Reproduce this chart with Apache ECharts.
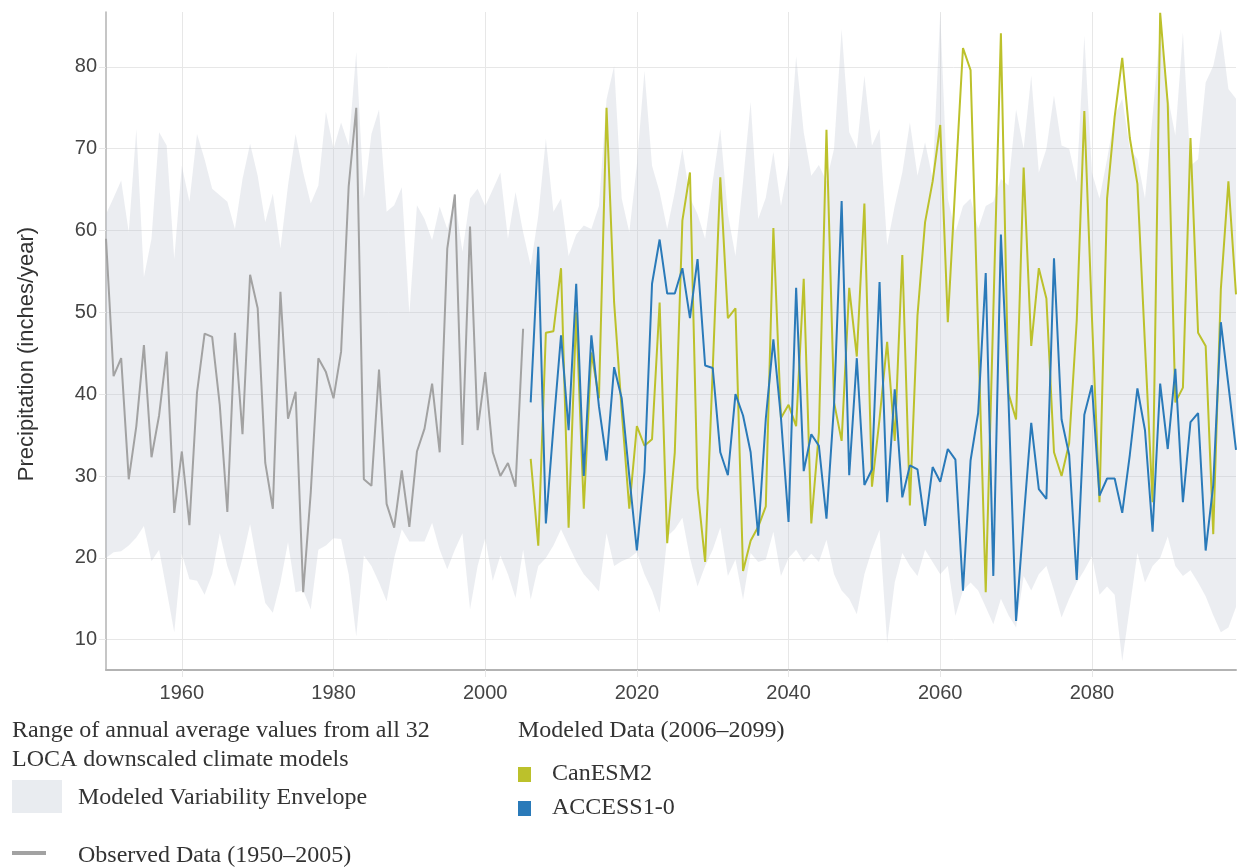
<!DOCTYPE html>
<html>
<head>
<meta charset="utf-8">
<script src="https://cdn.jsdelivr.net/npm/echarts@6/dist/echarts.min.js"></script>
<style>
  html, body { margin: 0; padding: 0; background: #ffffff; }
  #chart { width: 1237px; height: 867px; }
</style>
</head>
<body>
<div id="chart"></div>
<script>
// Annual precipitation, inches/year
const FIRST_YEAR = 1950;
const MODEL_FIRST_YEAR = 2006;

// Observed record 1950–2005
const observed = [
  59.0, 42.2, 44.4, 29.6, 36.1, 46.0, 32.3, 37.4, 45.2, 25.5,
  33.0, 24.0, 40.2, 47.4, 47.0, 38.7, 25.6, 47.5, 35.1, 54.6,
  50.5, 31.6, 26.0, 52.5, 37.0, 40.3, 15.8, 28.0, 44.4, 42.7,
  39.5, 45.2, 65.4, 75.0, 29.6, 28.8, 43.0, 26.6, 23.7, 30.7,
  23.8, 33.0, 35.8, 41.3, 32.9, 57.8, 64.4, 33.8, 60.5, 35.6,
  42.7, 32.9, 30.0, 31.6, 28.7, 48.0
];

// CanESM2 projection 2006–2099
const canESM2 = [
  32.1, 21.5, 47.5, 47.7, 55.4, 23.7, 50.0, 26.0, 45.1, 39.5,
  75.0, 51.2, 38.0, 26.0, 36.1, 33.7, 34.5, 51.2, 21.8, 32.9,
  61.2, 67.1, 28.5, 19.5, 43.0, 66.5, 49.3, 50.5, 18.4, 22.1,
  23.8, 26.3, 60.3, 37.1, 38.7, 36.1, 54.1, 24.2, 35.3, 72.3,
  39.0, 34.3, 53.0, 44.6, 63.3, 28.7, 37.0, 46.4, 34.3, 57.0,
  26.4, 49.6, 61.0, 66.0, 72.9, 48.8, 65.7, 82.3, 79.6, 47.7,
  15.8, 50.0, 84.1, 40.1, 36.9, 67.7, 45.9, 55.4, 51.7, 32.9,
  30.0, 34.0, 49.0, 74.6, 49.5, 26.8, 63.9, 73.9, 81.1, 71.3,
  65.7, 46.0, 26.8, 86.6, 75.5, 39.0, 40.8, 71.3, 47.5, 45.9,
  22.9, 52.8, 66.0, 52.2
];

// ACCESS1-0 projection 2006–2099
const access10 = [
  39.0, 58.0, 24.2, 36.0, 47.2, 35.6, 53.5, 30.0, 47.2, 38.5,
  31.9, 43.3, 39.5, 30.0, 20.9, 30.5, 53.5, 58.9, 52.3, 52.3,
  55.4, 49.3, 56.5, 43.5, 43.2, 32.9, 30.1, 40.0, 37.4, 32.9,
  22.7, 37.0, 46.7, 37.1, 24.4, 53.0, 30.6, 35.1, 33.7, 24.8,
  38.7, 63.6, 30.1, 44.4, 28.9, 30.8, 53.7, 26.8, 40.6, 27.4,
  31.3, 30.8, 23.9, 31.1, 29.3, 33.3, 32.0, 16.0, 31.9, 37.7,
  54.8, 17.8, 59.5, 39.3, 12.3, 24.7, 36.5, 28.4, 27.2, 56.6,
  36.9, 32.6, 17.3, 37.5, 41.1, 27.6, 29.7, 29.7, 25.5, 32.6,
  40.7, 35.6, 23.2, 41.3, 33.3, 43.1, 26.8, 36.6, 37.7, 20.9,
  28.9, 48.8, 41.1, 33.2
];

// Range of the 32 LOCA models, 1950–2099: upper and lower bounds
const envelopeUpper = [
  62.0, 64.0, 66.1, 59.8, 72.4, 54.3, 59.0, 72.0, 70.4, 56.5,
  67.9, 63.5, 71.8, 68.7, 65.1, 64.3, 63.5, 60.2, 66.3, 70.6,
  66.7, 61.0, 64.5, 57.8, 65.5, 71.8, 67.1, 63.3, 65.5, 74.5,
  70.0, 73.2, 70.4, 81.8, 63.9, 71.8, 74.8, 62.3, 63.1, 65.3,
  49.8, 63.1, 61.4, 58.8, 62.9, 60.2, 63.9, 57.4, 63.9, 65.1,
  63.0, 65.0, 67.1, 59.0, 64.7, 59.8, 55.7, 61.8, 71.2, 62.3,
  63.9, 56.9, 59.5, 60.6, 60.2, 63.0, 76.0, 80.1, 63.9, 59.8,
  68.0, 79.5, 67.9, 64.7, 60.2, 64.7, 70.0, 64.0, 62.0, 59.0,
  66.0, 72.4, 62.0, 56.9, 66.0, 75.7, 61.4, 64.0, 69.6, 63.0,
  68.0, 81.3, 72.0, 66.7, 68.0, 66.0, 70.0, 84.6, 72.0, 70.0,
  78.9, 70.4, 72.4, 58.2, 63.0, 67.1, 73.2, 66.7, 70.8, 66.3,
  86.6, 63.9, 59.8, 63.0, 63.9, 60.2, 63.0, 63.5, 66.3, 65.5,
  74.8, 70.0, 78.9, 67.1, 70.0, 76.5, 70.4, 70.0, 65.9, 83.8,
  67.1, 63.9, 68.7, 74.0, 76.1, 70.0, 68.7, 63.9, 74.0, 84.5,
  76.4, 71.6, 84.2, 67.9, 68.7, 78.1, 80.1, 84.6, 77.3, 76.1
];
const envelopeLower = [
  20.0, 20.7, 20.8, 21.5, 22.5, 23.9, 19.6, 21.0, 16.0, 10.9,
  20.5, 17.4, 17.2, 15.5, 18.0, 23.0, 19.0, 16.5, 20.0, 24.1,
  19.0, 14.5, 13.3, 17.0, 21.9, 15.8, 16.0, 13.7, 21.0, 21.5,
  22.4, 22.3, 18.0, 10.4, 20.3, 19.0, 17.0, 14.7, 20.0, 23.5,
  22.0, 22.0, 22.0, 24.3, 21.0, 18.6, 21.0, 23.0, 13.7, 19.0,
  22.4, 17.2, 20.3, 18.0, 15.1, 21.0, 14.9, 19.0, 20.0, 21.5,
  23.5, 21.5, 19.6, 18.0, 17.0, 15.9, 23.0, 19.0, 19.6, 20.0,
  20.7, 18.0, 16.0, 13.3, 22.6, 23.5, 24.9, 20.0, 16.5, 19.0,
  21.0, 23.7, 17.8, 19.8, 14.9, 20.6, 19.5, 19.8, 23.2, 17.8,
  20.0, 21.0, 19.5, 20.5, 19.5, 22.2, 18.0, 16.0, 15.0, 13.1,
  18.0, 21.0, 23.4, 9.6, 17.0, 20.6, 19.0, 17.8, 21.0, 19.5,
  18.0, 19.0, 12.9, 16.0, 17.0, 16.0, 14.0, 11.9, 15.0, 13.0,
  11.5, 17.8, 16.0, 18.0, 19.0, 16.0, 12.7, 15.0, 17.0, 18.5,
  20.2, 15.5, 16.5, 15.5, 7.4, 14.0, 20.6, 17.0, 19.0, 20.0,
  22.6, 19.0, 17.8, 18.5, 17.0, 15.3, 13.0, 10.9, 11.5, 14.0
];

// Axis extent and label text
const X_MIN = 1950, X_MAX = 2099;
const Y_MIN = 6.3, Y_MAX = 86.7;
const yAxisTitle = 'Precipitation (inches/year)';
const legendTexts = {
  rangeLine1: 'Range of annual average values from all 32',
  rangeLine2: 'LOCA downscaled climate models',
  envelope: 'Modeled Variability Envelope',
  observed: 'Observed Data (1950\u20132005)',
  modeled: 'Modeled Data (2006\u20132099)',
  canESM2: 'CanESM2',
  access: 'ACCESS1-0'
};

const COLORS = {
  envelope: 'rgba(190,198,210,0.31)',
  envelopeKey: '#e9ecf0',
  observed: '#a2a2a2',
  canESM2: '#bcc12b',
  access: '#2a7ab9',
  grid: '#e7e7e7',
  axis: '#b3b3b3',
  text: '#444444'
};

const toPairs = (start, values) => values.map((v, i) => [start + i, v]);

const chart = echarts.init(document.getElementById('chart'), null, { renderer: 'canvas' });

const serifFont = '"Liberation Serif", "DejaVu Serif", serif';
const sansFont = '"Liberation Sans", Arial, sans-serif';

// Legend text, vertically centred on y
const legendText = (x, y, text) => ({
  type: 'text', x: x, y: y,
  style: { text: text, fill: '#333333', font: '24px ' + serifFont, verticalAlign: 'middle', align: 'left' }
});

// Envelope band: one polygon along the upper bound and back along the lower bound
const renderEnvelope = (params, api) => {
  if (params.dataIndex !== 0) return null;
  const pts = [];
  for (let i = 0; i < envelopeUpper.length; i++) {
    pts.push(api.coord([FIRST_YEAR + i, envelopeUpper[i]]));
  }
  for (let i = envelopeLower.length - 1; i >= 0; i--) {
    pts.push(api.coord([FIRST_YEAR + i, envelopeLower[i]]));
  }
  return { type: 'polygon', shape: { points: pts }, style: { fill: COLORS.envelope }, silent: true };
};

chart.setOption({
  animation: false,
  backgroundColor: '#ffffff',
  grid: { left: 106, right: 1, top: 12, bottom: 197, containLabel: false },
  xAxis: {
    type: 'value',
    min: X_MIN, max: X_MAX,
    splitNumber: 7,
    axisLine: { show: true, onZero: false, lineStyle: { color: COLORS.axis, width: 2 } },
    axisTick: { show: true, length: 7, lineStyle: { color: COLORS.grid } },
    axisLabel: {
      show: true, margin: 13, color: COLORS.text, fontSize: 20, fontFamily: sansFont,
      showMinLabel: false, showMaxLabel: false,
      formatter: (v) => String(v)
    },
    splitLine: { show: true, showMinLine: false, showMaxLine: false, lineStyle: { color: COLORS.grid, width: 1 } }
  },
  yAxis: {
    type: 'value',
    min: Y_MIN, max: Y_MAX,
    splitNumber: 8,
    axisLine: { show: true, onZero: false, lineStyle: { color: COLORS.axis, width: 1.5 } },
    axisTick: { show: true, length: 7, lineStyle: { color: COLORS.grid } },
    axisLabel: {
      show: true, margin: 9, color: COLORS.text, fontSize: 20, fontFamily: sansFont,
      showMinLabel: false, showMaxLabel: false,
      formatter: (v) => String(v)
    },
    splitLine: { show: true, showMinLine: false, showMaxLine: false, lineStyle: { color: COLORS.grid, width: 1 } }
  },
  series: [
    {
      name: 'Modeled Variability Envelope', type: 'custom', silent: true, z: 1,
      data: [[X_MIN, Y_MIN]],
      renderItem: renderEnvelope
    },
    {
      name: 'Observed Data', type: 'line', data: toPairs(FIRST_YEAR, observed),
      symbol: 'none', lineStyle: { color: COLORS.observed, width: 2 }, z: 3
    },
    {
      name: 'CanESM2', type: 'line', data: toPairs(MODEL_FIRST_YEAR, canESM2),
      symbol: 'none', lineStyle: { color: COLORS.canESM2, width: 2 }, z: 4
    },
    {
      name: 'ACCESS1-0', type: 'line', data: toPairs(MODEL_FIRST_YEAR, access10),
      symbol: 'none', lineStyle: { color: COLORS.access, width: 2 }, z: 5
    }
  ],
  graphic: [
    {
      type: 'text', x: 27, y: 354, rotation: Math.PI / 2,
      style: { text: yAxisTitle, fill: '#333333', font: '22px ' + sansFont, align: 'center', verticalAlign: 'middle' }
    },
    legendText(12, 731, legendTexts.rangeLine1),
    legendText(12, 760, legendTexts.rangeLine2),
    { type: 'rect', x: 12, y: 780, shape: { width: 50, height: 33 }, style: { fill: COLORS.envelopeKey } },
    legendText(78, 798, legendTexts.envelope),
    { type: 'rect', x: 12, y: 851, shape: { width: 34, height: 4 }, style: { fill: COLORS.observed } },
    legendText(78, 856, legendTexts.observed),
    legendText(518, 731, legendTexts.modeled),
    { type: 'rect', x: 518, y: 767, shape: { width: 13, height: 15 }, style: { fill: COLORS.canESM2 } },
    legendText(552, 774, legendTexts.canESM2),
    { type: 'rect', x: 518, y: 801, shape: { width: 13, height: 15 }, style: { fill: COLORS.access } },
    legendText(552, 808, legendTexts.access)
  ]
});
</script>
</body>
</html>
